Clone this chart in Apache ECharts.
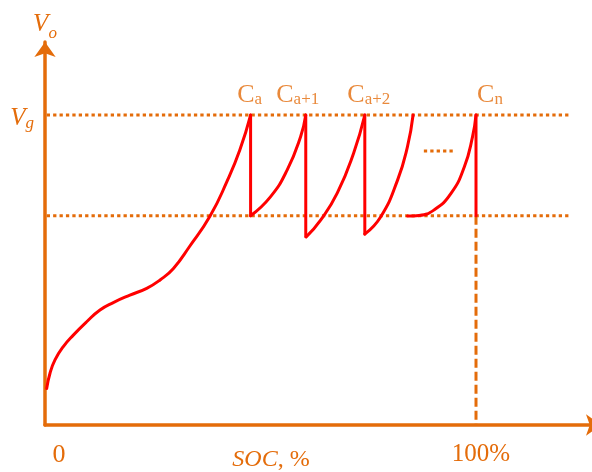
<!DOCTYPE html>
<html>
<head>
<meta charset="utf-8">
<script src="https://cdn.jsdelivr.net/npm/echarts@6/dist/echarts.min.js"></script>
<style>
  html, body { margin: 0; padding: 0; background: #ffffff; }
  #chart { width: 592px; height: 472px; }
</style>
</head>
<body>
<div id="chart"></div>
<script>
// ---- data (x: SOC in %, y: voltage with Vg = 100) ----
const VG = 100;
const V_LOW = 67.5;
const mainCurve = [[0.39,11.8],[1.16,16.7],[2.32,21],[4.25,25.3],[6.57,29],[9.67,33.3],[12.76,37.1],[15.85,39.5],[19.7,41.9],[23.6,44.1],[26.7,46.8],[29.8,50.5],[33.5,57.5],[38.3,67.4],[42.2,78.5],[45.2,88.7],[47.7,100]];
const rise2 = [[47.7,67.5],[52.3,73.6],[56.2,82.3],[59.3,93],[60.5,100]];
const rise3 = [[60.6,60.7],[63.95,66.1],[67.8,74.8],[71.6,87.7],[74.2,100]];
const rise4 = [[74.2,61.6],[77.9,67.2],[81.8,79],[84.1,89.8],[85.4,100]];
const riseN = [[84.1,67.4],[86.8,67.6],[90.3,69.4],[94.2,74.7],[97.3,83.3],[99.2,93],[100,100]];
const drops = [[[47.7,100],[47.7,67.5]],[[60.5,100],[60.5,60.7]],[[74.2,100],[74.2,61.6]],[[100,100],[100,67.5]]];
const peakLabels = [
  {x:47.7, sub:'a', dx:-1},
  {x:60.5, sub:'a+1', dx:-8},
  {x:74.2, sub:'a+2', dx:4},
  {x:100, sub:'n', dx:14}
];
const vgLine = [[0.4,VG],[121.6,VG]];
const lowLine = [[0.4,V_LOW],[121.6,V_LOW]];
const ellipsis = [[87.9,88.4],[94.7,88.4]];
const fullLine = [[100,V_LOW],[100,0]];

// ---- styles ----
const ORANGE = '#E46C0A';
const RED = '#FF0000';
const SERIF = 'Liberation Serif';

function lineSeries(data, color, width, type, smooth, z) {
  return {
    type: 'line', data: data, showSymbol: false, symbol: 'none',
    smooth: smooth ? 0.5 : false,
    lineStyle: { color: color, width: width, type: type, cap: type === 'solid' ? 'round' : 'butt' },
    silent: true, z: z, animation: false
  };
}

const series = [
  lineSeries(vgLine, ORANGE, 3, [3.3, 3.1], false, 2),
  lineSeries(lowLine, ORANGE, 3, [3.3, 3.1], false, 2),
  lineSeries(ellipsis, ORANGE, 3, [3.3, 3.1], false, 2),
  lineSeries(fullLine, ORANGE, 3, [9, 4], false, 2),
  lineSeries(mainCurve, RED, 3, 'solid', true, 3),
  lineSeries(rise2, RED, 3, 'solid', true, 3),
  lineSeries(rise3, RED, 3, 'solid', true, 3),
  lineSeries(rise4, RED, 3, 'solid', true, 3),
  lineSeries(riseN, RED, 3, 'solid', true, 3)
];
drops.forEach(d => series.push(lineSeries(d, RED, 3, 'solid', false, 3)));
series.push({
  type: 'scatter', symbolSize: 1, itemStyle: { color: 'rgba(0,0,0,0)' }, silent: true, animation: false, z: 4,
  data: peakLabels.map(p => ({
    value: [p.x, VG],
    label: {
      show: true, position: 'top', distance: 6, offset: [p.dx, 0],
      formatter: '{c|C}{s|' + p.sub + '}',
      rich: {
        c: { fontFamily: SERIF, fontSize: 26, color: ORANGE, verticalAlign: 'bottom', lineHeight: 26 },
        s: { fontFamily: SERIF, fontSize: 17, color: ORANGE, verticalAlign: 'bottom', lineHeight: 26 }
      }
    }
  }))
});

const chart = echarts.init(document.getElementById('chart'), null, { renderer: 'canvas' });
chart.setOption({
  animation: false,
  backgroundColor: '#ffffff',
  grid: { left: 45, top: 42, bottom: 47, width: 556, containLabel: false, outerBoundsMode: 'none' },
  xAxis: {
    type: 'value', min: 0, max: 129.0, interval: 100,
    axisLine: { show: true, onZero: false, symbol: ['none', 'arrow'], symbolSize: [16, 15], lineStyle: { color: ORANGE, width: 3.5 } },
    axisTick: { show: false }, splitLine: { show: false },
    axisLabel: {
      margin: 17, showMaxLabel: false,
      formatter: v => v === 0 ? '{z|0}' : (v === 100 ? '{p|100%}' : ''),
      rich: {
        z: { fontFamily: SERIF, fontSize: 26, color: ORANGE, padding: [0, 0, 0, 28] },
        p: { fontFamily: SERIF, fontSize: 25, color: ORANGE, padding: [0, 0, 0, 10] }
      }
    },
    name: '{i|SOC}{n|, %}', nameLocation: 'middle', nameGap: 23, nameMoveOverlap: false,
    nameTextStyle: {
      padding: [0, 104, 0, 0],
      rich: {
        i: { fontFamily: SERIF, fontStyle: 'italic', fontSize: 24, color: ORANGE },
        n: { fontFamily: SERIF, fontSize: 24, color: ORANGE }
      }
    }
  },
  yAxis: {
    type: 'value', min: 0, max: 123.55, interval: 100,
    axisLine: { show: true, onZero: false, symbol: ['none', 'arrow'], symbolSize: [16, 15], lineStyle: { color: ORANGE, width: 3.5 } },
    axisTick: { show: false }, splitLine: { show: false },
    axisLabel: {
      margin: 11, showMaxLabel: false, padding: [8, 0, 0, 0],
      formatter: v => v === 100 ? '{v|V}{s|g}' : '',
      rich: {
        v: { fontFamily: SERIF, fontStyle: 'italic', fontSize: 25, color: ORANGE, verticalAlign: 'top' },
        s: { fontFamily: SERIF, fontStyle: 'italic', fontSize: 17, color: ORANGE, verticalAlign: 'top', padding: [10, 0, 0, 0] }
      }
    },
    name: '{v|V}{s|o}', nameLocation: 'end', nameGap: 0, nameMoveOverlap: false,
    nameTextStyle: {
      padding: [0, 0, 0, 0],
      rich: {
        v: { fontFamily: SERIF, fontStyle: 'italic', fontSize: 25, color: ORANGE, verticalAlign: 'top' },
        s: { fontFamily: SERIF, fontStyle: 'italic', fontSize: 17, color: ORANGE, verticalAlign: 'top', padding: [13, 0, 0, 0] }
      }
    }
  },
  series: series
});
</script>
</body>
</html>
